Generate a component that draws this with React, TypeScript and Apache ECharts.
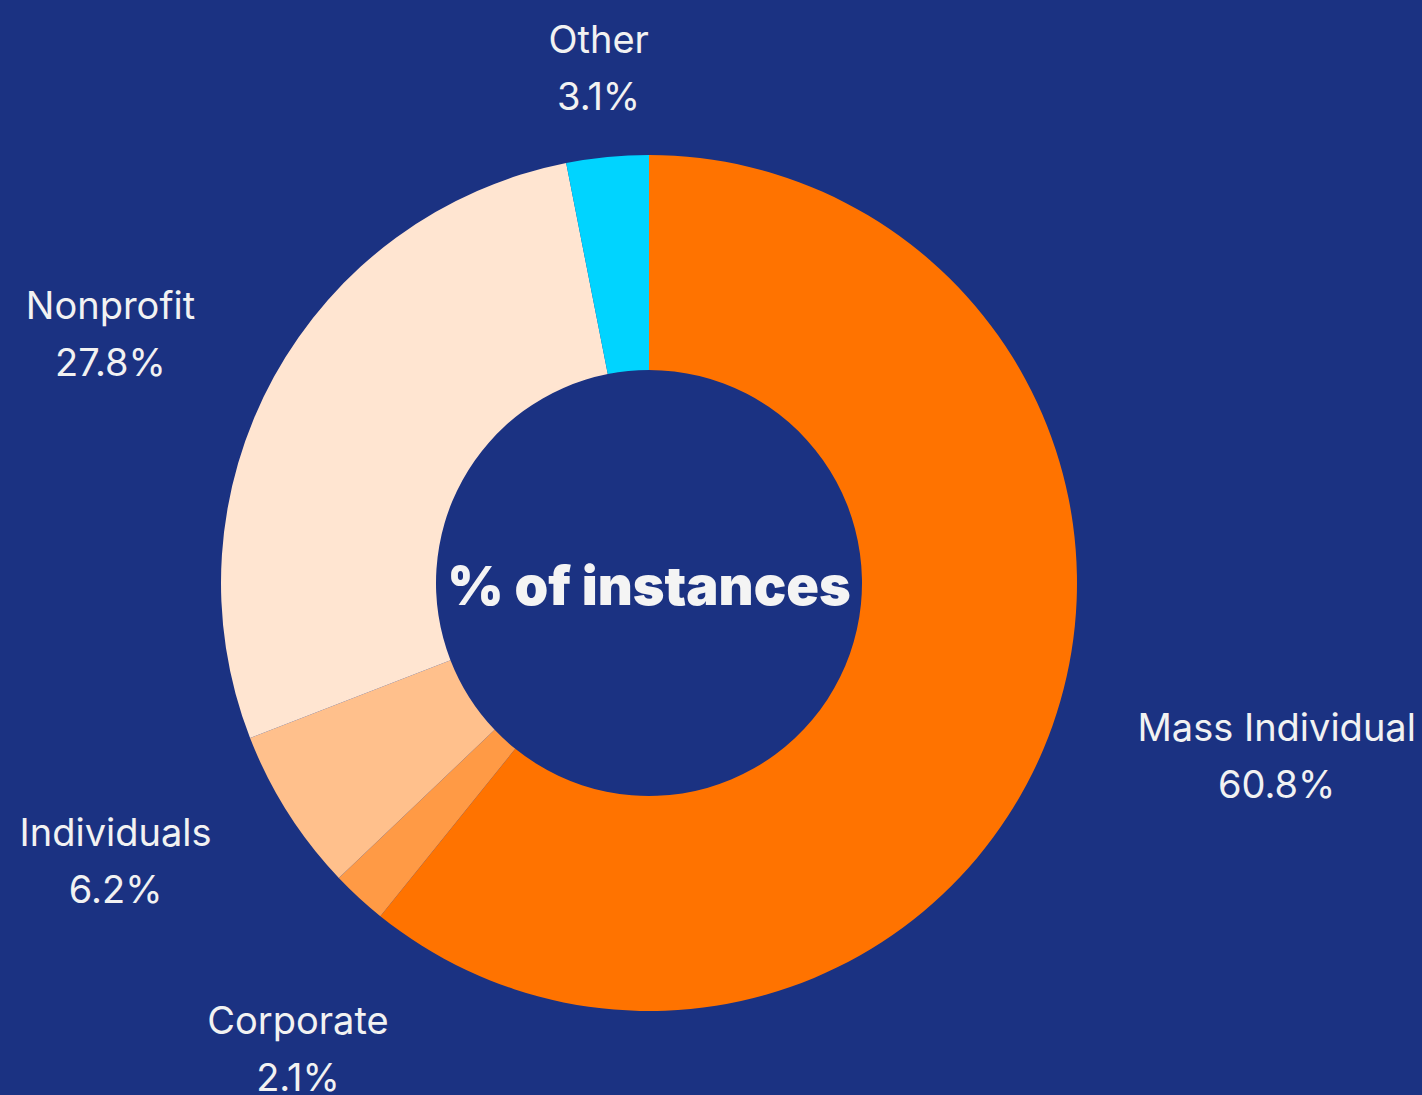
import React, { useEffect, useRef } from "react";
import * as echarts from "echarts";

const categories = ["Mass Individual", "Corporate", "Individuals", "Nonprofit", "Other"];
const values = [60.8, 2.1, 6.2, 27.8, 3.1];
const colors = ["#FF7300", "#FF9A45", "#FFC08C", "#FFE5D1", "#00D4FF"];
const centerText = "% of instances";

const BG = "#1B3282";
const CX = 649;
const CY = 583;
const R_IN = 213;
const R_OUT = 428;
const LABEL_GAP = 90;

export default function App() {
  const ref = useRef<HTMLDivElement>(null);
  useEffect(() => {
    document.body.style.margin = "0";
    document.body.style.background = BG;
    const chart = echarts.init(ref.current!, undefined, { renderer: "svg" });
    const total = values.reduce((a, b) => a + b, 0);
    const mids: number[] = [];
    let cum = 0;
    values.forEach((v) => {
      mids.push(((cum + v / 2) / total) * Math.PI * 2);
      cum += v;
    });
    chart.setOption({
      animation: false,
      backgroundColor: BG,
      series: [
        {
          type: "pie",
          center: [CX, CY],
          radius: [R_IN, R_OUT],
          startAngle: 90,
          clockwise: true,
          avoidLabelOverlap: false,
          data: categories.map((c, i) => ({
            name: c,
            value: values[i],
            itemStyle: { color: colors[i] },
          })),
          label: {
            show: true,
            position: "outside",
            formatter: (p: any) => `${p.name}\n${p.value.toFixed(1)}%`,
            color: "#F2F2F2",
            fontFamily: "Inter, Lato, sans-serif",
            fontSize: 38,
            lineHeight: 57,
          },
          labelLine: { show: false },
          emphasis: { disabled: true },
          labelLayout: (params: any) => {
            const i = params.dataIndex;
            const t = mids[i];
            const sx = Math.sin(t);
            const sy = -Math.cos(t);
            const r = R_OUT + LABEL_GAP;
            let x = CX + sx * r;
            let y = CY + sy * r;
            const w = params.labelRect ? params.labelRect.width : 0;
            if (Math.abs(sx) > 0.8) {
              x += (sx > 0 ? 1 : -1) * (w / 2);
            } else if (sy > 0) {
              y += 85;
            }
            return { x, y, align: "center", verticalAlign: "middle" };
          },
        },
      ],
      graphic: [
        {
          type: "text",
          x: CX,
          y: CY + 2,
          style: {
            text: centerText,
            fill: "#F4F4F4",
            font: "900 54px Inter, Lato, sans-serif",
            textAlign: "center",
            textVerticalAlign: "middle",
          },
        },
      ],
    });
    return () => chart.dispose();
  }, []);
  return (
    <div
      ref={ref}
      style={{ position: "absolute", left: 0, top: 0, width: 1422, height: 1095 }}
    />
  );
}
